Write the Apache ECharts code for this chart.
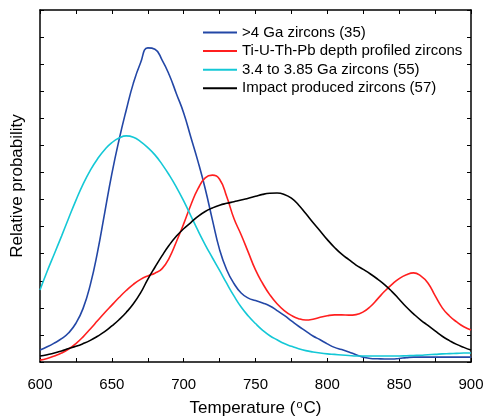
<!DOCTYPE html>
<html>
<head>
<meta charset="utf-8">
<script src="https://cdn.jsdelivr.net/npm/echarts@6/dist/echarts.min.js"></script>
<style>
  html, body { margin: 0; padding: 0; background: #fff; }
  #main { width: 487px; height: 418px; }
</style>
</head>
<body>
<div id="main"></div>
<script>
// temperatures (°C), one point every 5 degrees
var temps = [600,605,610,615,620,625,630,635,640,645,650,655,660,665,670,675,680,685,690,695,
  700,705,710,715,720,725,730,735,740,745,750,755,760,765,770,775,780,785,790,795,
  800,805,810,815,820,825,830,835,840,845,850,855,860,865,870,875,880,885,890,895,900];

// relative probability
var oldZircons = [0.44,0.56,0.7,0.86,1.08,1.43,1.98,2.85,4.05,5.5,6.95,8.2,9.3,10.3,11.05,11.6,11.55,11.15,10.6,9.9,
  9.2,8.3,7.4,6.4,5.25,4.15,3.4,2.9,2.55,2.36,2.27,2.18,2.07,1.9,1.72,1.52,1.32,1.14,0.96,0.82,
  0.67,0.54,0.46,0.37,0.27,0.18,0.13,0.12,0.11,0.11,0.13,0.16,0.18,0.18,0.18,0.18,0.18,0.18,0.18,0.18,0.18];
var depthProfiled = [0.07,0.13,0.22,0.33,0.48,0.68,0.93,1.22,1.52,1.82,2.1,2.38,2.64,2.87,3.05,3.18,3.28,3.45,3.85,4.45,
  5.1,5.8,6.4,6.8,6.9,6.75,6.1,5.3,4.7,4.05,3.4,2.9,2.48,2.15,1.9,1.72,1.6,1.55,1.58,1.65,
  1.71,1.74,1.74,1.73,1.75,1.85,2.05,2.33,2.62,2.87,3.08,3.22,3.29,3.18,2.92,2.45,2.0,1.7,1.48,1.3,1.18];
var youngZircons = [2.66,3.35,4.0,4.65,5.32,5.97,6.57,7.08,7.5,7.84,8.1,8.27,8.35,8.3,8.14,7.92,7.65,7.3,6.9,6.45,
  5.95,5.4,4.85,4.33,3.85,3.38,2.9,2.44,2.03,1.7,1.42,1.17,0.97,0.82,0.68,0.58,0.49,0.42,0.37,0.33,
  0.3,0.28,0.26,0.24,0.22,0.22,0.22,0.22,0.22,0.22,0.22,0.23,0.24,0.25,0.27,0.28,0.3,0.31,0.32,0.33,0.33];
var impactZircons = [0.22,0.27,0.33,0.41,0.5,0.58,0.68,0.8,0.95,1.12,1.33,1.56,1.83,2.15,2.55,3.05,3.5,3.93,4.32,4.65,
  4.92,5.15,5.38,5.56,5.69,5.79,5.86,5.92,5.98,6.05,6.12,6.19,6.23,6.24,6.19,6.05,5.8,5.48,5.15,4.84,
  4.52,4.23,3.98,3.78,3.58,3.42,3.25,3.06,2.85,2.6,2.32,2.03,1.78,1.55,1.35,1.15,0.95,0.79,0.65,0.54,0.44];

var names = ['>4 Ga zircons (35)', 'Ti-U-Th-Pb depth profiled zircons', '3.4 to 3.85 Ga zircons (55)', 'Impact produced zircons (57)'];
var colors = ['#2347a6', '#ff1f1f', '#14c8d6', '#000000'];

function pairs(vals) {
  var out = [];
  for (var i = 0; i < temps.length; i++) out.push([temps[i], vals[i]]);
  return out;
}

var myChart = echarts.init(document.getElementById('main'));

var axisLine = { show: true, onZero: false, lineStyle: { color: '#000', width: 1.5 } };
var tick = { show: true, inside: true, length: 4, lineStyle: { color: '#000', width: 1 } };

function lineSeries(i, vals) {
  return {
    name: names[i],
    type: 'line',
    data: pairs(vals),
    smooth: true,
    showSymbol: false,
    symbol: 'none',
    lineStyle: { color: colors[i], width: 1.6 },
    itemStyle: { color: colors[i] }
  };
}

myChart.setOption({
  animation: false,
  textStyle: { fontFamily: 'Liberation Sans, Arial, sans-serif', color: '#000' },
  grid: { left: 40, right: 16, top: 10, bottom: 56, outerBoundsMode: 'none' },
  legend: {
    orient: 'vertical',
    left: 198,
    top: 20,
    icon: 'rect',
    itemWidth: 34,
    itemHeight: 2,
    itemGap: 3.6,
    textStyle: { fontSize: 15, color: '#000', lineHeight: 15, fontFamily: 'Liberation Sans, Arial, sans-serif' },
    data: names
  },
  xAxis: [{
    type: 'value',
    min: 600, max: 900, interval: 25,
    position: 'bottom',
    axisLine: axisLine,
    axisTick: tick,
    splitLine: { show: false },
    axisLabel: {
      color: '#000', fontSize: 15, margin: 15,
      formatter: function (v) { return v % 50 === 0 ? v : ''; }
    },
    name: 'Temperature ({sup|o}C)',
    nameLocation: 'middle',
    nameGap: 37,
    nameTextStyle: {
      color: '#000', fontSize: 17,
      rich: { sup: { fontSize: 11, verticalAlign: 'top', padding: [0, 1, 8, 1] } }
    }
  }, {
    type: 'value',
    min: 600, max: 900, interval: 25,
    position: 'top',
    axisLine: axisLine,
    axisTick: tick,
    axisLabel: { show: false },
    splitLine: { show: false }
  }],
  yAxis: [{
    type: 'value',
    min: 0, max: 13, interval: 1,
    position: 'left',
    axisLine: axisLine,
    axisTick: tick,
    axisLabel: { show: false },
    splitLine: { show: false },
    name: 'Relative probability',
    nameLocation: 'middle',
    nameGap: 14,
    nameTextStyle: { color: '#000', fontSize: 17 }
  }, {
    type: 'value',
    min: 0, max: 13, interval: 1,
    position: 'right',
    axisLine: axisLine,
    axisTick: tick,
    axisLabel: { show: false },
    splitLine: { show: false }
  }],
  series: [
    lineSeries(0, oldZircons),
    lineSeries(1, depthProfiled),
    lineSeries(2, youngZircons),
    lineSeries(3, impactZircons)
  ]
});
</script>
</body>
</html>
